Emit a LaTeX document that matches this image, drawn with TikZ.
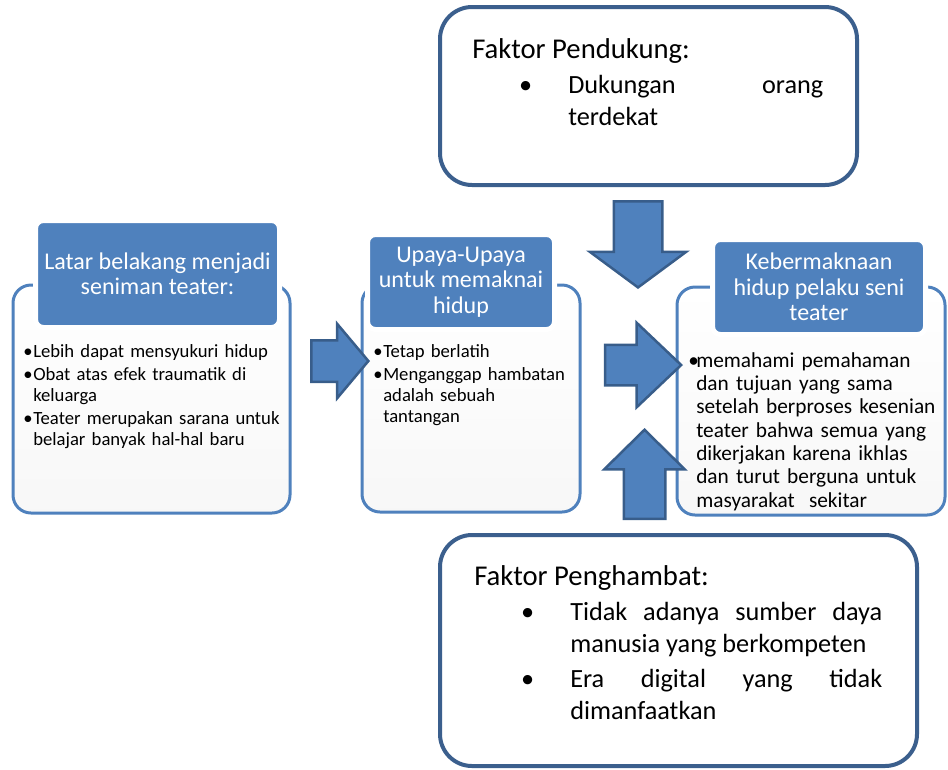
\documentclass[tikz,border=0pt]{standalone}
\usepackage{fontspec}
\setmainfont{Carlito}
\usetikzlibrary{shapes.arrows,positioning}
\definecolor{boxblue}{HTML}{4F81BD}
\definecolor{edgeblue}{HTML}{385D8A}
\definecolor{rimblue}{HTML}{3B5F8D}
\newcommand{\px}{0.75pt}
\tikzset{
  panel/.style ={draw=boxblue,line width=3*\px,rounded corners=18*\px,
                 top color=white,bottom color=black!3,inner sep=0pt},
  head/.style  ={draw=white,fill=boxblue,line width=5*\px,rounded corners=8*\px,
                 text=white,align=center,inner sep=0pt,
                 font=\fontsize{18}{19}\selectfont},
  factor/.style={draw=rimblue,line width=4*\px,rounded corners=32*\px,
                 fill=white,inner sep=0pt},
  btxt/.style  ={anchor=base west,inner sep=0pt,align=left,
                 execute at begin node={\setlength\parskip{1.5pt}}},
  ftxt/.style  ={anchor=base west,inner sep=0pt,align=justify,
                 font=\fontsize{19.7}{24}\selectfont,
                 execute at begin node={\setlength\parskip{2.5pt}}},
  barrow/.style={single arrow,draw=edgeblue,fill=boxblue,line width=2.5*\px,
                 inner xsep=0pt,single arrow head indent=0pt,anchor=tip},
}
% bullet with hanging indent (items are split by \par)
\newcommand{\sitem}[1]{\hangindent=#1\hangafter=1\noindent
  \makebox[#1][l]{\textbullet}}
\newcommand{\fitem}{\par\hangindent=72pt\hangafter=1\noindent
  \hbox to 72pt{\hskip40pt\makebox[0pt]{\textbullet}\hfil}}
\newcommand{\fhead}[1]{{\fontsize{21.5}{24}\selectfont #1\par}}

\begin{document}
\begin{tikzpicture}[x=0.75pt,y=-0.75pt]
\useasboundingbox (0,0) rectangle (948,769);
% three stages
\node[panel,minimum width=277*\px,minimum height=228*\px] (LBox) at (151.5,399) {};
\node[head,minimum width=244*\px,minimum height=107*\px] (LHead) at (157.5,274)
  {Latar belakang menjadi\\seniman teater:};
\node[btxt,text width=200pt,font=\fontsize{14}{15.75}\selectfont] (LTxt) at (23,357)
  {\sitem{7.5pt}Lebih dapat mensyukuri hidup\par
   \sitem{7.5pt}Obat atas efek traumatik di\newline keluarga\par
   \sitem{7.5pt}Teater merupakan sarana untuk\newline belajar banyak hal-hal baru\par};

\node[panel,minimum width=218*\px,minimum height=227*\px] (MBox) at (471,398.5) {};
\node[head,minimum width=187*\px,minimum height=95*\px] (MHead) at (461,282)
  {Upaya-Upaya\\untuk memaknai\\hidup};
\node[btxt,text width=150pt,font=\fontsize{14}{15.75}\selectfont] (MTxt) at (373,357)
  {\sitem{7.5pt}Tetap berlatih\par
   \sitem{7.5pt}Menganggap hambatan\newline adalah sebuah\newline tantangan\par};

\node[panel,minimum width=268*\px,minimum height=228*\px] (RBox) at (811,401) {};
\node[head,minimum width=213*\px,minimum height=95*\px] (RHead) at (819,287)
  {Kebermaknaan\\hidup pelaku seni\\teater};
\node[btxt,text width=190pt,font=\fontsize{16}{17.5}\selectfont] (RTxt) at (688,367)
  {\sitem{6pt}memahami pemahaman\newline dan tujuan yang sama\newline
   setelah berproses kesenian\newline teater bahwa semua yang\newline
   dikerjakan karena ikhlas\newline dan turut berguna untuk\newline
   masyarakat\ \ sekitar\par};

% factors
\node[factor,minimum width=417*\px,minimum height=178*\px] (Pend) at (648.5,96) {};
\node[ftxt,text width=351*\px] (PendTxt) at (472,58)
  {\fhead{Faktor Pendukung:}
   \fitem Dukungan\hfill orang\break terdekat\par};
\node[factor,minimum width=477*\px,minimum height=231*\px] (Peng) at (678.5,650.5) {};
\node[ftxt,text width=408*\px] (PengTxt) at (474,585)
  {\fhead{Faktor Penghambat:}
   \fitem Tidak adanya sumber daya\break manusia yang berkompeten
   \fitem Era digital yang tidak\break dimanfaatkan\par};

% block arrows, placed by their tips
\node[barrow,minimum height=57*\px,minimum width=72*\px,inner ysep=19.5*\px,
  single arrow head extend=16.5*\px,single arrow tip angle=100] (toM) at (370,361) {};
\node[barrow,minimum height=76*\px,minimum width=82*\px,inner ysep=19*\px,
  single arrow head extend=22*\px,single arrow tip angle=87] (toR) at (683,365) {};
\node[barrow,rotate=-90,minimum height=86*\px,minimum width=96*\px,inner ysep=23*\px,
  single arrow head extend=24*\px,single arrow tip angle=107] (fromPend) at (638,289) {};
\node[barrow,rotate=90,minimum height=89*\px,minimum width=78*\px,inner ysep=19.5*\px,
  single arrow head extend=19.5*\px,single arrow tip angle=91] (fromPeng) at (644.5,428) {};
\end{tikzpicture}
\end{document}
